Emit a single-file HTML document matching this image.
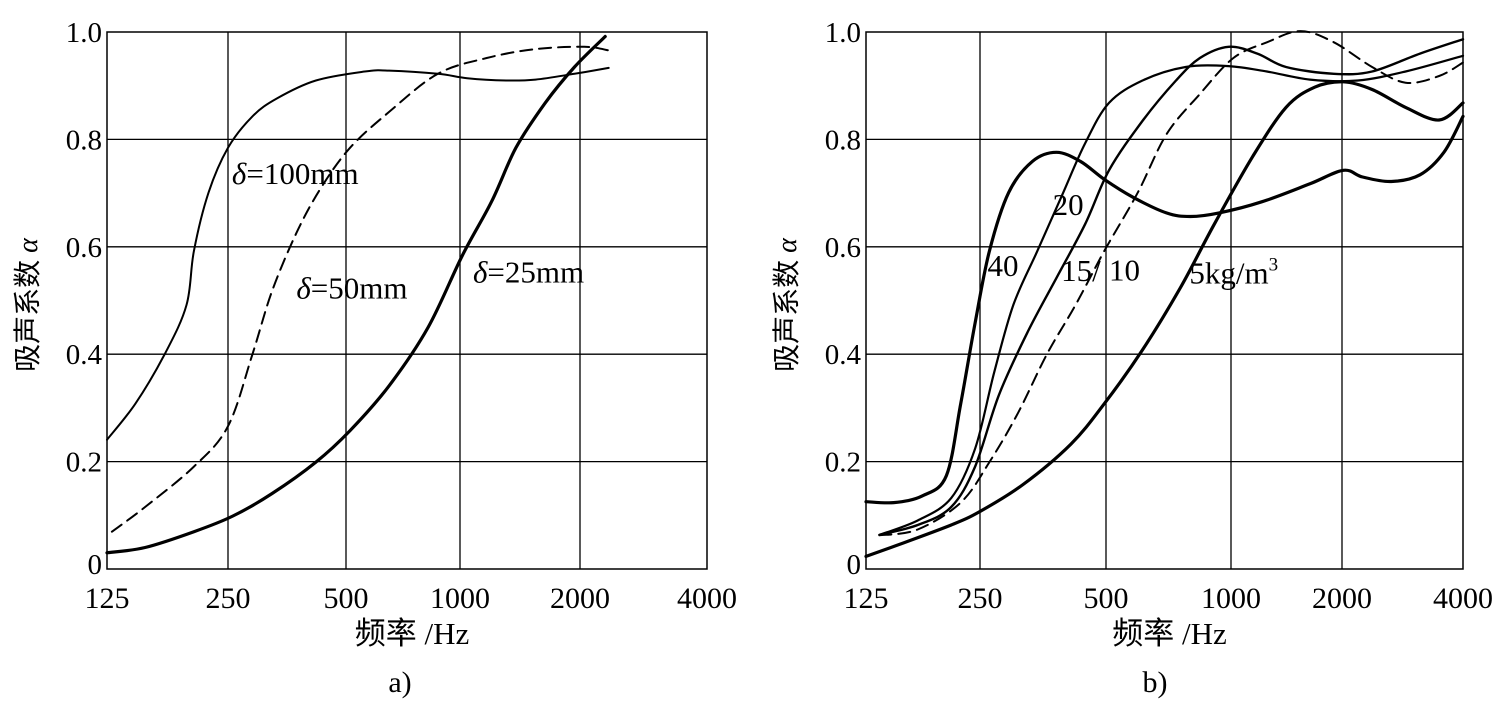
<!DOCTYPE html>
<html><head><meta charset="utf-8"><style>
html,body{margin:0;padding:0;background:#fff;}
svg{display:block;}
text{font-family:"Liberation Serif","Noto Serif CJK SC",serif;fill:#000;}
.cjk{font-family:"Liberation Serif","Noto Sans CJK SC",sans-serif;}
</style></head><body>
<svg id="s" width="1509" height="705" viewBox="0 0 1509 705" xmlns="http://www.w3.org/2000/svg">
<g id="grid" stroke="#000" fill="none"></g>
<g id="curves" fill="none" stroke="#000" stroke-linecap="round" stroke-linejoin="round"></g>
<g id="txt"></g>
</svg>
<script>
var NS="http://www.w3.org/2000/svg";
function el(p,tag,attrs,txt){var e=document.createElementNS(NS,tag);for(var k in attrs)e.setAttribute(k,attrs[k]);if(txt!==undefined)e.textContent=txt;document.getElementById(p).appendChild(e);return e;}
var Y0=32,Y1=569;
function ym(z){return 32+(z-72)*0.449;}
var L={x0:107,x1:707,gx:[228,346,460,580],mx:function(z){return 107+(z-222)*0.488;}};
var R={x0:866,x1:1463,gx:[980,1106,1231,1342],mx:function(z){return 866+(z-222)*0.4784;}};
function catmull(pts){var d="M"+pts[0][0].toFixed(1)+","+pts[0][1].toFixed(1);for(var i=0;i<pts.length-1;i++){var p0=pts[i-1]||pts[i],p1=pts[i],p2=pts[i+1],p3=pts[i+2]||p2;var c1=[p1[0]+(p2[0]-p0[0])/6,p1[1]+(p2[1]-p0[1])/6],c2=[p2[0]-(p3[0]-p1[0])/6,p2[1]-(p3[1]-p1[1])/6];d+="C"+c1[0].toFixed(1)+","+c1[1].toFixed(1)+" "+c2[0].toFixed(1)+","+c2[1].toFixed(1)+" "+p2[0].toFixed(1)+","+p2[1].toFixed(1);}return d;}
function panel(P,label,cx){
 el("grid","rect",{x:P.x0,y:Y0,width:P.x1-P.x0,height:Y1-Y0,"stroke-width":1.5});
 P.gx.forEach(function(x){el("grid","line",{x1:x,y1:Y0,x2:x,y2:Y1,"stroke-width":1.3});});
 for(var i=1;i<5;i++){var y=Y1-(Y1-Y0)*i/5;el("grid","line",{x1:P.x0,y1:y,x2:P.x1,y2:y,"stroke-width":1.3});}
 var yl=["0","0.2","0.4","0.6","0.8","1.0"];
 for(var i=0;i<6;i++){var y=Y1-(Y1-Y0)*i/5;el("txt","text",{x:P.x0-5,y:y+(i==0?5:10),"text-anchor":"end","font-size":29},yl[i]);}
 var xs=[P.x0].concat(P.gx).concat([P.x1]);var xl=["125","250","500","1000","2000","4000"];
 xs.forEach(function(x,i){el("txt","text",{x:x,y:608,"text-anchor":"middle","font-size":30},xl[i]);});
 el("txt","text",{x:(P.x0+P.x1)/2+5,y:644,"text-anchor":"middle","font-size":31,"class":"cjk"},"频率 /Hz");
 var t=el("txt","text",{x:0,y:0,"text-anchor":"middle","font-size":28,"class":"cjk",transform:"translate("+(P.x0-70)+",305) rotate(-90)"});
 t.innerHTML='吸声系数 <tspan font-style="italic" font-family="Liberation Serif">α</tspan>';
 el("txt","text",{x:cx,y:692,"text-anchor":"middle","font-size":30},label);
}
panel(L,"a)",400);panel(R,"b)",1155);
function curve(P,pts,w,dash){var q=pts.map(function(p){return [P.mx(p[0]),ym(p[1])];});var a={d:catmull(q),"stroke-width":w};if(dash)a["stroke-dasharray"]=dash;el("curves","path",a);}
// Left
curve(L,[[222,980],[280,900],[340,790],[385,680],[400,560],[430,430],[470,330],[520,260],[570,220],[650,180],[750,160],[800,158],[900,165],[960,175],[1040,180],[1100,178],[1180,165],[1250,152]],2);
curve(L,[[232,1185],[300,1130],[400,1040],[470,950],[520,790],[560,650],[610,520],[660,420],[720,330],[800,250],[900,165],[1000,130],[1100,110],[1200,105],[1250,113]],2,"12,7");
curve(L,[[222,1232],[300,1220],[400,1185],[480,1150],[560,1100],[650,1030],[720,960],[800,860],[880,730],[950,570],[1010,450],[1060,330],[1120,230],[1180,150],[1243,82]],3.2);
// Right
curve(R,[[222,1118],[280,1120],[340,1105],[390,1060],[420,900],[450,720],[480,560],[520,430],[570,360],[620,340],[670,360],[720,400],[780,440],[850,475],[900,483],[960,475],[1050,450],[1150,410],[1220,380],[1260,395],[1320,405],[1380,390],[1430,340],[1470,260]],3.2);
curve(R,[[250,1192],[330,1160],[400,1110],[450,1000],[490,830],[530,680],[580,560],[630,440],[680,320],[730,230],[800,180],[890,150],[980,148],[1060,160],[1150,178],[1250,180],[1350,160],[1470,125]],2.2);
curve(R,[[250,1192],[330,1170],[400,1130],[450,1040],[500,880],[560,740],[620,620],[680,500],[730,380],[800,270],[870,180],[920,130],[980,105],[1040,120],[1100,150],[1200,165],[1280,160],[1380,120],[1470,88]],2.4);
curve(R,[[250,1193],[330,1180],[420,1120],[480,1030],[540,920],[600,790],[660,680],[720,560],[790,430],[850,300],[920,210],[990,130],[1060,95],[1130,70],[1200,95],[1280,150],[1350,185],[1420,170],[1470,140]],2,"12,7");
curve(R,[[222,1240],[300,1210],[400,1170],[460,1140],[550,1080],[650,990],[720,900],[800,780],[880,640],[950,500],[1030,350],[1100,240],[1160,195],[1220,183],[1280,200],[1350,240],[1420,268],[1470,230]],3.2);
// labels
function lab(P,z,zy,html){var t=el("txt","text",{x:P.mx(z),y:ym(zy),"font-size":31});t.innerHTML=html;}
lab(L,478,410,'<tspan font-style="italic">δ</tspan>=100mm');
lab(L,610,665,'<tspan font-style="italic">δ</tspan>=50mm');
lab(L,972,630,'<tspan font-style="italic">δ</tspan>=25mm');
lab(R,612,480,'20');
lab(R,476,615,'40');
lab(R,630,627,'15/');
lab(R,730,625,'10');
lab(R,898,632,'5kg/m<tspan font-size="19" dy="-13">3</tspan>');
</script>
</body></html>
